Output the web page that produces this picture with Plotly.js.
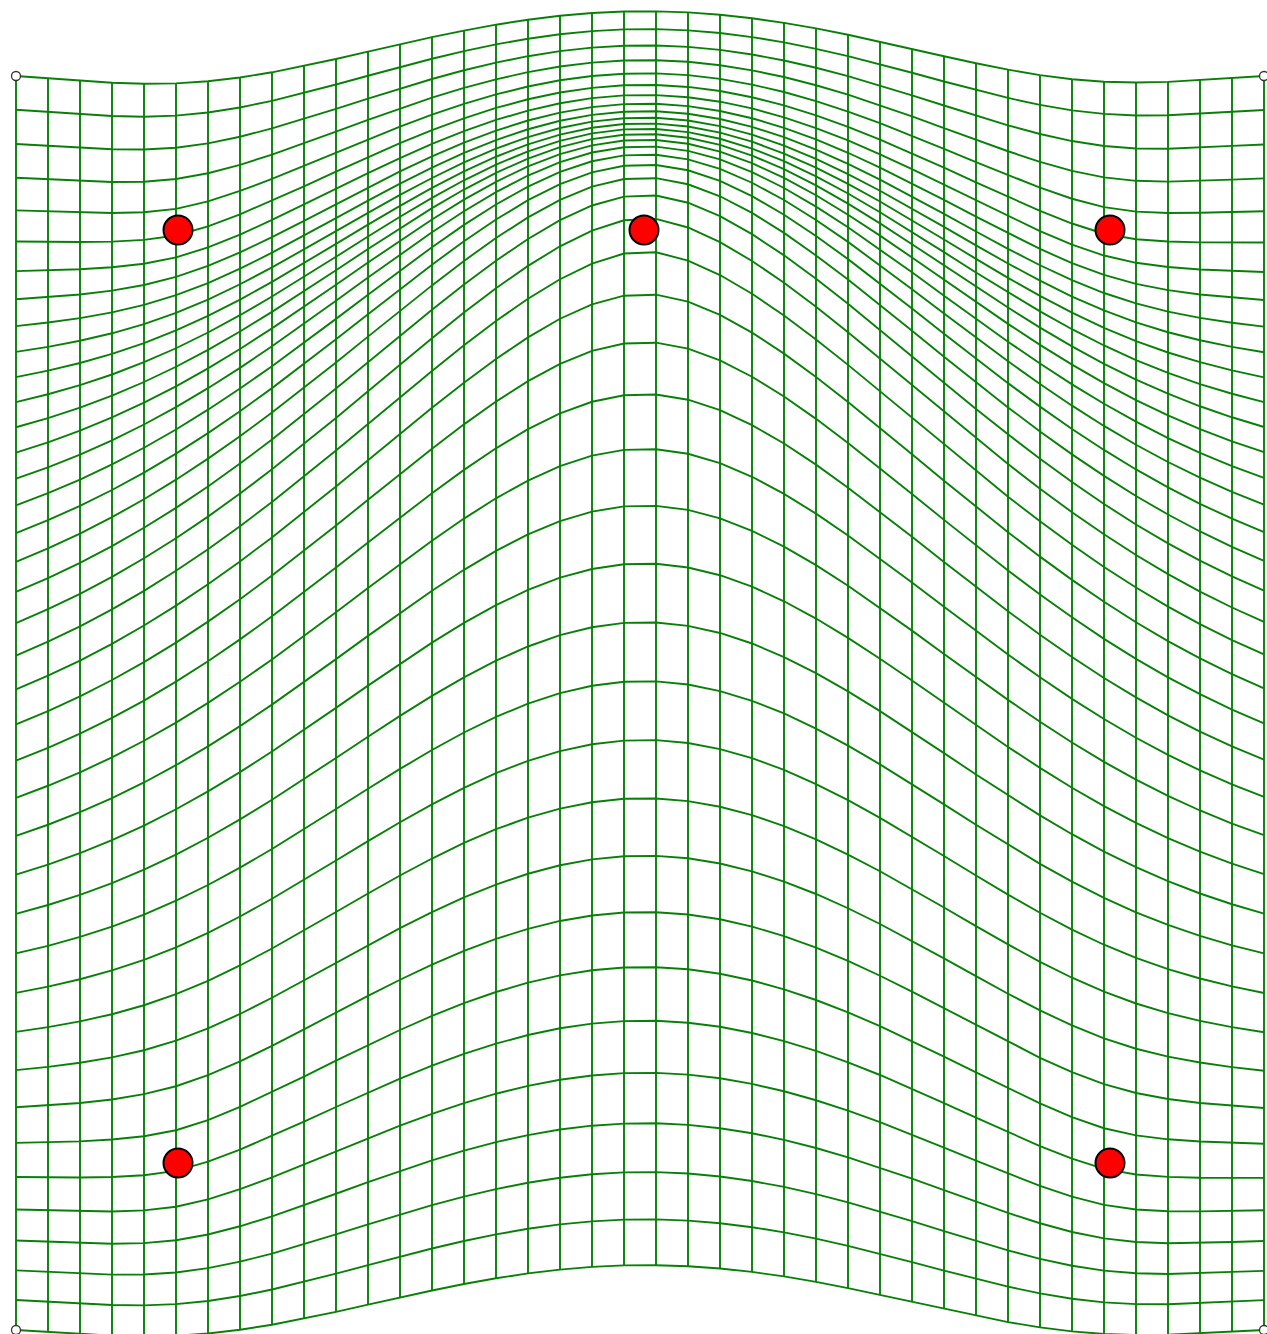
<!DOCTYPE html>
<html>
<head>
<meta charset="utf-8">
<script src="https://cdn.plot.ly/plotly-3.0.1.min.js"></script>
<style>html,body{margin:0;padding:0;background:#fff;}#chart{width:1267px;height:1334px;}</style>
</head>
<body>
<div id="chart"></div>
<script>
// Grid of the undeformed sheet
const gridCols = 40;
const gridRows = 40;
const gridLeft = 16, gridRight = 1264, gridTop = 76, gridBottom = 1330;

// Fixed corner anchors (open circles)
const cornerX = [16, 1264, 16, 1264];
const cornerY = [76, 76, 1330, 1330];

// Landmarks (red dots): source position and displaced position
const dotSrcX = [178, 644, 1110, 178, 1110];
const dotSrcY = [230, 700, 230, 1163, 1163];
const dotDstX = [178, 644, 1110, 178, 1110];
const dotDstY = [230, 230, 230, 1163, 1163];

// ---- thin-plate spline built from the landmark arrays ----
const lmX = cornerX.concat(dotSrcX);
const lmY = cornerY.concat(dotSrcY);
const lmDY = cornerY.map(() => 0).concat(dotDstY.map((v, k) => v - dotSrcY[k]));
const S = 1000;
function U(dx, dy) { const r2 = dx*dx + dy*dy; return r2 === 0 ? 0 : r2 * Math.log(r2) * 0.5; }
function solve(A, b) {
  const n = b.length;
  for (let c = 0; c < n; c++) {
    let p = c;
    for (let r = c+1; r < n; r++) if (Math.abs(A[r][c]) > Math.abs(A[p][c])) p = r;
    [A[c], A[p]] = [A[p], A[c]]; [b[c], b[p]] = [b[p], b[c]];
    for (let r = c+1; r < n; r++) {
      const f = A[r][c] / A[c][c];
      for (let k = c; k < n; k++) A[r][k] -= f * A[c][k];
      b[r] -= f * b[c];
    }
  }
  const x = new Array(n).fill(0);
  for (let r = n-1; r >= 0; r--) {
    let s = b[r];
    for (let k = r+1; k < n; k++) s -= A[r][k] * x[k];
    x[r] = s / A[r][r];
  }
  return x;
}
const n = lmX.length;
const A = [], b = [];
for (let i = 0; i < n + 3; i++) { A.push(new Array(n + 3).fill(0)); b.push(0); }
for (let i = 0; i < n; i++) {
  for (let j = 0; j < n; j++) A[i][j] = U((lmX[i]-lmX[j])/S, (lmY[i]-lmY[j])/S);
  A[i][n] = 1; A[i][n+1] = lmX[i]/S; A[i][n+2] = lmY[i]/S;
  A[n][i] = 1; A[n+1][i] = lmX[i]/S; A[n+2][i] = lmY[i]/S;
  b[i] = lmDY[i];
}
const w = solve(A, b);
function warpY(x, y) {
  let s = w[n] + w[n+1]*x/S + w[n+2]*y/S;
  for (let i = 0; i < n; i++) s += w[i] * U((x-lmX[i])/S, (y-lmY[i])/S);
  return y + s;
}

// ---- grid nodes ----
const colX = [], rowY = [];
for (let i = 0; i < gridCols; i++) colX.push(gridLeft + (gridRight - gridLeft) * i / (gridCols - 1));
for (let j = 0; j < gridRows; j++) rowY.push(gridTop + (gridBottom - gridTop) * j / (gridRows - 1));
const node = rowY.map(y => colX.map(x => warpY(x, y)));

const hx = [], hy = [], vx = [], vy = [];
for (let j = 0; j < gridRows; j++) {
  for (let i = 0; i < gridCols; i++) { hx.push(colX[i]); hy.push(node[j][i]); }
  hx.push(null); hy.push(null);
}
for (let i = 0; i < gridCols; i++) {
  for (let j = 0; j < gridRows; j++) { vx.push(colX[i]); vy.push(node[j][i]); }
  vx.push(null); vy.push(null);
}

const green = 'rgb(8,128,8)';
const traces = [
  {x: hx, y: hy, type: 'scatter', mode: 'lines', line: {color: green, width: 1.9}, hoverinfo: 'skip', showlegend: false},
  {x: vx, y: vy, type: 'scatter', mode: 'lines', line: {color: green, width: 1.9}, hoverinfo: 'skip', showlegend: false},
  {x: cornerX, y: cornerY, type: 'scatter', mode: 'markers', cliponaxis: false,
   marker: {size: 9, color: 'white', line: {color: '#333', width: 1.3}}, hoverinfo: 'skip', showlegend: false},
  {x: dotDstX, y: dotDstY, type: 'scatter', mode: 'markers', cliponaxis: false,
   marker: {size: 29, color: 'red', line: {color: 'black', width: 2}}, hoverinfo: 'skip', showlegend: false}
];
const layout = {
  width: 1267, height: 1334,
  margin: {l: 0, r: 0, t: 0, b: 0},
  paper_bgcolor: 'white', plot_bgcolor: 'white',
  xaxis: {range: [0, 1267], visible: false, showgrid: false, zeroline: false, fixedrange: true},
  yaxis: {range: [1334, 0], visible: false, showgrid: false, zeroline: false, fixedrange: true},
  showlegend: false
};
Plotly.newPlot('chart', traces, layout, {staticPlot: true, displayModeBar: false});
</script>
</body>
</html>
